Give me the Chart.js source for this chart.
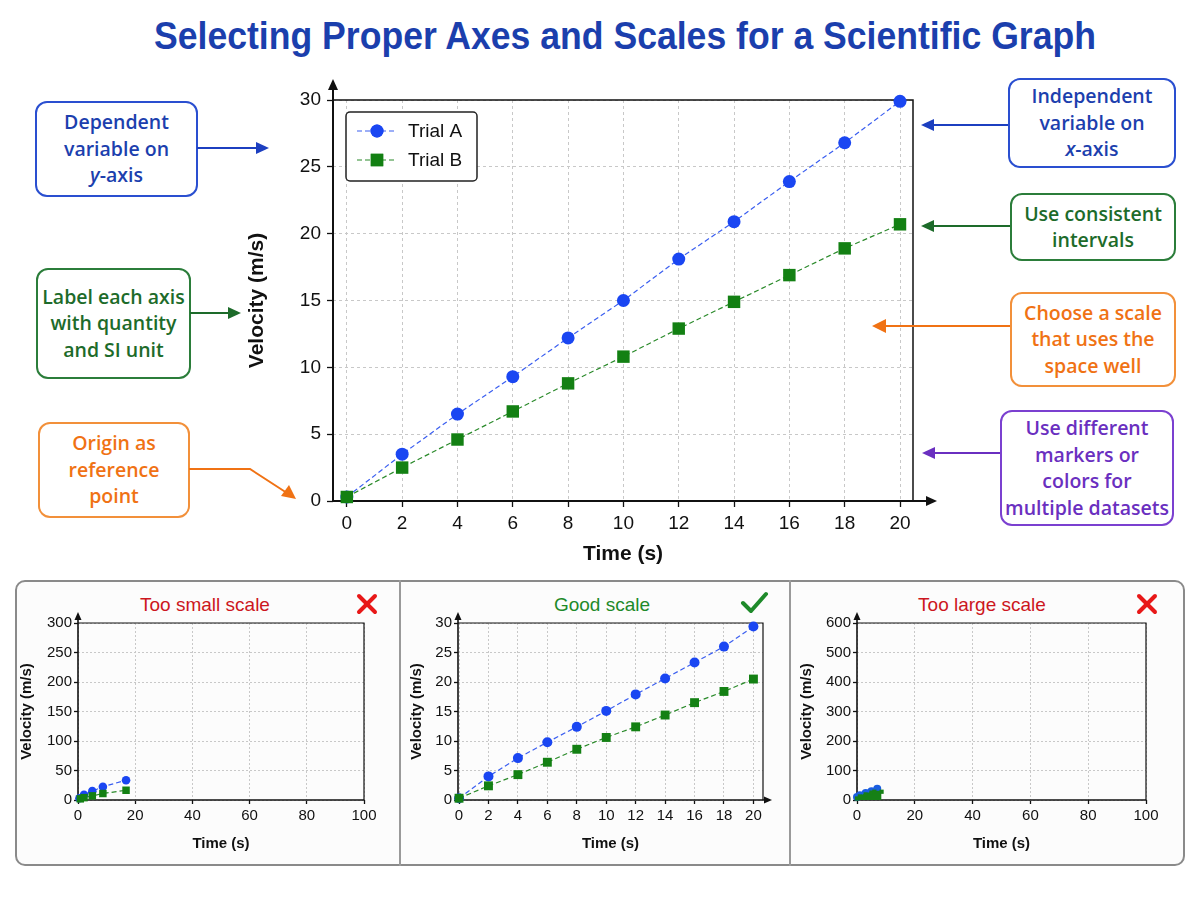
<!DOCTYPE html>
<html><head><meta charset="utf-8">
<script src="https://cdn.jsdelivr.net/npm/chart.js@4.4.0/dist/chart.umd.min.js"></script>
<style>
html,body{margin:0;padding:0;background:#fff;}
body{width:1200px;height:900px;position:relative;overflow:hidden;font-family:'Liberation Sans',Arial,sans-serif;}
#titleWrap{position:absolute;left:0;top:15px;width:1250px;text-align:center;}
#title{display:inline-block;font-weight:bold;font-size:38px;color:#1b3fad;white-space:nowrap;transform-origin:center center;}
.box{position:absolute;border:2px solid;border-radius:12px;background:#fff;display:flex;align-items:center;justify-content:center;text-align:center;font-family:'Open Sans',sans-serif;font-weight:600;font-size:19.5px;line-height:26.5px;box-sizing:border-box;}
.box > div{display:block;}
.blue{border-color:#2a4fd0;color:#1c3fae;}
.green{border-color:#2b7d3a;color:#1d6b2a;}
.orange{border-color:#f2903a;color:#f07214;}
.purple{border-color:#7b40d0;color:#6a2fc0;}
canvas{position:absolute;}
#panel{position:absolute;left:15px;top:580px;width:1170px;height:286px;border:2px solid #8a8a8a;border-radius:10px;box-sizing:border-box;background:#fcfcfc;}
.div{position:absolute;top:580px;width:2px;height:286px;background:#9a9a9a;}
.ptitle{position:absolute;top:594px;width:300px;text-align:center;font-size:19px;font-family:'Liberation Sans',Arial,sans-serif;}
svg{position:absolute;left:0;top:0;pointer-events:none;}
</style>
</head><body>
<div id="titleWrap"><span id="title">Selecting Proper Axes and Scales for a Scientific Graph</span></div>

<div id="panel"></div>
<div class="div" style="left:399px"></div>
<div class="div" style="left:789px"></div>
<div class="ptitle" style="left:55px;color:#cc1620">Too small scale</div>
<div class="ptitle" style="left:452px;color:#1e8a2a">Good scale</div>
<div class="ptitle" style="left:832px;color:#cc1620">Too large scale</div>

<canvas id="mainChart" width="730" height="510" style="left:230px;top:70px"></canvas>
<canvas id="c1" width="385" height="262" style="left:15px;top:600px"></canvas>
<canvas id="c2" width="380" height="262" style="left:405px;top:600px"></canvas>
<canvas id="c3" width="385" height="262" style="left:795px;top:600px"></canvas>

<div class="box blue" style="left:35px;top:101px;width:163px;height:96px"><div>Dependent<br>variable on<br><i>y</i>-axis</div></div>
<div class="box green" style="left:36px;top:268px;width:155px;height:111px"><div>Label each axis<br>with quantity<br>and SI unit</div></div>
<div class="box orange" style="left:38px;top:422px;width:152px;height:96px"><div>Origin as<br>reference<br>point</div></div>
<div class="box blue" style="left:1008px;top:78px;width:168px;height:90px"><div>Independent<br>variable on<br><i>x</i>-axis</div></div>
<div class="box green" style="left:1010px;top:193px;width:166px;height:68px"><div>Use consistent<br>intervals</div></div>
<div class="box orange" style="left:1010px;top:292px;width:166px;height:95px"><div>Choose a scale<br>that uses the<br>space well</div></div>
<div class="box purple" style="left:1000px;top:410px;width:174px;height:116px"><div>Use different<br>markers or<br>colors for<br>multiple datasets</div></div>

<svg width="1200" height="900" viewBox="0 0 1200 900">
  <g stroke-width="2" fill="none">
    <line x1="197" y1="148" x2="258" y2="148" stroke="#1c3fc0"/>
    <polygon points="269,148 256,142 256,154" fill="#1c3fc0" stroke="none"/>
    <line x1="190" y1="313" x2="230" y2="313" stroke="#1d6b2a"/>
    <polygon points="241,313 228,307 228,319" fill="#1d6b2a" stroke="none"/>
    <polyline points="189,469 250,469 287,493" stroke="#f07214"/>
    <polygon points="296,499 281,496 289,485" fill="#f07214" stroke="none"/>
    <line x1="1008" y1="125" x2="932" y2="125" stroke="#1c3fc0"/>
    <polygon points="921,125 934,119 934,131" fill="#1c3fc0" stroke="none"/>
    <line x1="1010" y1="226" x2="932" y2="226" stroke="#1d6b2a"/>
    <polygon points="921,226 934,220 934,232" fill="#1d6b2a" stroke="none"/>
    <line x1="1010" y1="326" x2="884" y2="326" stroke="#f07214"/>
    <polygon points="872,326 886,319 886,333" fill="#f07214" stroke="none"/>
    <line x1="1000" y1="453" x2="934" y2="453" stroke="#6a2fc0"/>
    <polygon points="922,453 935,447 935,459" fill="#6a2fc0" stroke="none"/>
  </g>
  <g stroke="#e81818" stroke-width="4" stroke-linecap="round">
    <line x1="359" y1="596" x2="375" y2="612"/><line x1="375" y1="596" x2="359" y2="612"/>
    <line x1="1139" y1="596" x2="1155" y2="612"/><line x1="1155" y1="596" x2="1139" y2="612"/>
  </g>
  <polyline points="743,603 751,611 766,594" stroke="#1e8a2a" stroke-width="4" fill="none" stroke-linecap="round" stroke-linejoin="round"/>
</svg>

<script>
// ---------- DATA ----------
const mainTime = [0, 2, 4, 6, 8, 10, 12, 14, 16, 18, 20];
const trialA = [0.3, 3.5, 6.5, 9.3, 12.2, 15.0, 18.1, 20.9, 23.9, 26.8, 29.9];
const trialB = [0.3, 2.5, 4.6, 6.7, 8.8, 10.8, 12.9, 14.9, 16.9, 18.9, 20.7];
const mainXTicks = [0, 2, 4, 6, 8, 10, 12, 14, 16, 18, 20];
const mainYTicks = [0, 5, 10, 15, 20, 25, 30];
const seriesLabels = ['Trial A', 'Trial B'];

const smallTimeA = [0.5, 2.1, 5.0, 8.7, 16.8];
const smallVelA = [3, 9, 15, 22.5, 33.5];
const smallTimeB = [0.8, 2.1, 5.0, 8.7, 16.8];
const smallVelB = [2, 4, 7, 11, 16.5];
const smallXTicks = [0, 20, 40, 60, 80, 100];
const smallYTicks = [0, 50, 100, 150, 200, 250, 300];

const goodTime = [0, 2, 4, 6, 8, 10, 12, 14, 16, 18, 20];
const goodA = [0.3, 4.0, 7.1, 9.8, 12.4, 15.1, 17.9, 20.6, 23.3, 26.0, 29.4];
const goodB = [0.3, 2.4, 4.3, 6.4, 8.6, 10.6, 12.4, 14.4, 16.5, 18.4, 20.5];
const goodXTicks = [0, 2, 4, 6, 8, 10, 12, 14, 16, 18, 20];
const goodYTicks = [0, 5, 10, 15, 20, 25, 30];

const largeTimeA = [0, 1, 3, 5, 7];
const largeVelA = [10, 16, 24, 30, 38];
const largeTimeB = [0, 1, 3, 5, 6, 8.5];
const largeVelB = [5, 12, 19, 25, 28, 28];
const largeXTicks = [0, 20, 40, 60, 80, 100];
const largeYTicks = [0, 100, 200, 300, 400, 500, 600];

// ---------- TITLE ----------
(function(){
  const t = document.getElementById('title');
  const w = t.offsetWidth;
  t.style.transform = 'scaleX(' + (942 / w) + ')';
})();

// ---------- HELPERS ----------
const BLUE = '#1a46f2', BLUE_LINE = '#3a5ef0';
const GREEN = '#138013', GREEN_LINE = '#2a8a2a';
const FONT = "'Liberation Sans', Arial, sans-serif";
Chart.defaults.font.family = FONT;
Chart.defaults.color = '#111';

const pts = (xs, ys) => xs.map((x, i) => ({x: x, y: ys[i]}));

const axisArrows = {
  id: 'axisArrows',
  beforeDatasetsDraw(chart, args, o) {
    const {ctx, chartArea: {left, right, top, bottom}} = chart;
    ctx.save();
    ctx.strokeStyle = '#111'; ctx.fillStyle = '#111';
    ctx.lineWidth = o.frameWidth;
    ctx.beginPath(); ctx.moveTo(left, top); ctx.lineTo(right, top); ctx.lineTo(right, bottom); ctx.stroke();
    ctx.lineWidth = o.axisWidth;
    const xe = o.xExt, ye = o.yExt, ah = o.ah, aw = o.aw;
    ctx.beginPath(); ctx.moveTo(left, bottom); ctx.lineTo(right + (xe ? xe - ah : 0), bottom); ctx.stroke();
    ctx.beginPath(); ctx.moveTo(left, bottom); ctx.lineTo(left, top - ye + ah); ctx.stroke();
    if (xe) {
      ctx.beginPath(); ctx.moveTo(right + xe, bottom); ctx.lineTo(right + xe - ah, bottom - aw); ctx.lineTo(right + xe - ah, bottom + aw); ctx.closePath(); ctx.fill();
    }
    ctx.beginPath(); ctx.moveTo(left, top - ye); ctx.lineTo(left - aw, top - ye + ah); ctx.lineTo(left + aw, top - ye + ah); ctx.closePath(); ctx.fill();
    ctx.restore();
  }
};

const boxLegend = {
  id: 'boxLegend',
  afterDatasetsDraw(chart) {
    const {ctx, chartArea: {left, top}} = chart;
    const x = left + 13, y = top + 12, w = 131, h = 69;
    ctx.save();
    ctx.fillStyle = '#fff'; ctx.strokeStyle = '#222'; ctx.lineWidth = 1.5;
    ctx.beginPath(); ctx.roundRect(x, y, w, h, 4); ctx.fill(); ctx.stroke();
    chart.data.datasets.forEach((ds, i) => {
      const cy = y + 19 + i * 29;
      ctx.strokeStyle = ds.borderColor; ctx.lineWidth = 1.2; ctx.setLineDash(ds.borderDash);
      ctx.beginPath(); ctx.moveTo(x + 11, cy); ctx.lineTo(x + 51, cy); ctx.stroke();
      ctx.setLineDash([]);
      ctx.fillStyle = ds.pointBackgroundColor;
      Chart.helpers.drawPoint(ctx, {pointStyle: ds.pointStyle, radius: ds.pointRadius, borderWidth: 0}, x + 31, cy);
      ctx.fill();
      ctx.fillStyle = '#111'; ctx.font = '19px ' + FONT; ctx.textBaseline = 'middle'; ctx.textAlign = 'left';
      ctx.fillText(ds.label, x + 62, cy + 1);
    });
    ctx.restore();
  }
};

function makeScales(cfg) {
  const gridCommon = {color: '#c8c8c8', lineWidth: 1, drawTicks: true, tickLength: cfg.tickLen, tickColor: '#111', tickWidth: 1.3};
  return {
    x: {
      type: 'linear', min: cfg.xMin, max: cfg.xMax,
      afterBuildTicks: s => { s.ticks = cfg.xTicks.map(v => ({value: v})); },
      afterFit: s => { s.height = cfg.xH; },
      grid: gridCommon,
      border: {display: false, dash: cfg.dash},
      ticks: {autoSkip: false, maxRotation: 0, padding: cfg.xPad, color: '#111', font: {size: cfg.tickSize}},
      title: {display: true, text: 'Time (s)', color: '#111', font: {size: cfg.titleSize, weight: 'bold'}, padding: {top: 0, bottom: cfg.xTitlePad}}
    },
    y: {
      type: 'linear', min: cfg.yMin, max: cfg.yMax,
      afterBuildTicks: s => { s.ticks = cfg.yTicks.map(v => ({value: v})); },
      afterFit: s => { s.width = cfg.yW; },
      grid: gridCommon,
      border: {display: false, dash: cfg.dash},
      ticks: {autoSkip: false, padding: cfg.yPad, color: '#111', font: {size: cfg.tickSize}},
      title: {display: true, text: 'Velocity (m/s)', color: '#111', font: {size: cfg.titleSize, weight: 'bold'}, padding: {top: cfg.yTitlePad, bottom: 0}}
    }
  };
}

function ds(label, data, color, lineColor, style, r, order, extra) {
  return Object.assign({
    label: label, data: data, borderColor: lineColor, borderWidth: 1.2, borderDash: [5, 3],
    pointStyle: style, pointRadius: r, pointBackgroundColor: color, pointBorderColor: color, pointBorderWidth: 0,
    fill: false, tension: 0, clip: false, order: order
  }, extra || {});
}

const baseOpts = {responsive: false, animation: false, devicePixelRatio: 1, events: []};

// ---------- MAIN CHART ----------
new Chart(document.getElementById('mainChart'), {
  type: 'line',
  data: {datasets: [
    ds(seriesLabels[0], pts(mainTime, trialA), BLUE, BLUE_LINE, 'circle', 6.5, 2),
    ds(seriesLabels[1], pts(mainTime, trialB), GREEN, GREEN_LINE, 'rect', 8.8, 1)
  ]},
  options: Object.assign({}, baseOpts, {
    layout: {padding: {left: 0, top: 30, right: 47, bottom: 0}},
    plugins: {legend: {display: false}, tooltip: {enabled: false},
      axisArrows: {frameWidth: 1.5, axisWidth: 2, xExt: 24, yExt: 21, ah: 11, aw: 5}},
    scales: makeScales({xMin: -0.5, xMax: 20.47, yMin: 0, yMax: 30, xTicks: mainXTicks, yTicks: mainYTicks,
      xH: 79, yW: 103, tickLen: 6, dash: [3, 3], xPad: 5, yPad: 6, tickSize: 19, titleSize: 21, xTitlePad: 13, yTitlePad: 15})
  }),
  plugins: [axisArrows, boxLegend]
});

// ---------- SMALL CHARTS ----------
function small(id, datasets, sc, xExt, padR, yW) {
  new Chart(document.getElementById(id), {
    type: 'line',
    data: {datasets: datasets},
    options: Object.assign({}, baseOpts, {
      layout: {padding: {left: 0, top: 23, right: padR, bottom: 0}},
      plugins: {legend: {display: false}, tooltip: {enabled: false},
        axisArrows: {frameWidth: 1.2, axisWidth: 1.6, xExt: xExt, yExt: 11, ah: 8, aw: 3.5}},
      scales: makeScales(Object.assign({xH: 62, yW: yW, tickLen: 4, dash: [2, 2], xPad: 3, yPad: 2, tickSize: 15, titleSize: 15, xTitlePad: 9, yTitlePad: 3}, sc))
    }),
    plugins: [axisArrows]
  });
}

small('c1', [
  ds(seriesLabels[0], pts(smallTimeA, smallVelA), BLUE, BLUE_LINE, 'circle', 4.3, 2),
  ds(seriesLabels[1], pts(smallTimeB, smallVelB), GREEN, GREEN_LINE, 'rect', 5.3, 1)
], {xMin: 0, xMax: 100, yMin: 0, yMax: 300, xTicks: smallXTicks, yTicks: smallYTicks}, 0, 36, 63);

small('c2', [
  ds(seriesLabels[0], pts(goodTime, goodA), BLUE, BLUE_LINE, 'circle', 5, 2),
  ds(seriesLabels[1], pts(goodTime, goodB), GREEN, GREEN_LINE, 'rect', 6.3, 1)
], {xMin: -0.07, xMax: 20.65, yMin: 0, yMax: 30, xTicks: goodXTicks, yTicks: goodYTicks}, 9, 22, 53);

small('c3', [
  ds(seriesLabels[0], pts(largeTimeA, largeVelA), '#1a5ee0', '#1a5ee0', 'circle', 4, 2, {fill: 'origin', backgroundColor: '#1a5ee0', borderDash: [], borderWidth: 2}),
  ds(seriesLabels[1], pts(largeTimeB, largeVelB), '#168016', '#168016', 'rect', 3, 1, {fill: 'origin', backgroundColor: '#168016', borderDash: [], borderWidth: 2})
], {xMin: 0, xMax: 100, yMin: 0, yMax: 600, xTicks: largeXTicks, yTicks: largeYTicks}, 0, 34, 62);
</script>
</body></html>
